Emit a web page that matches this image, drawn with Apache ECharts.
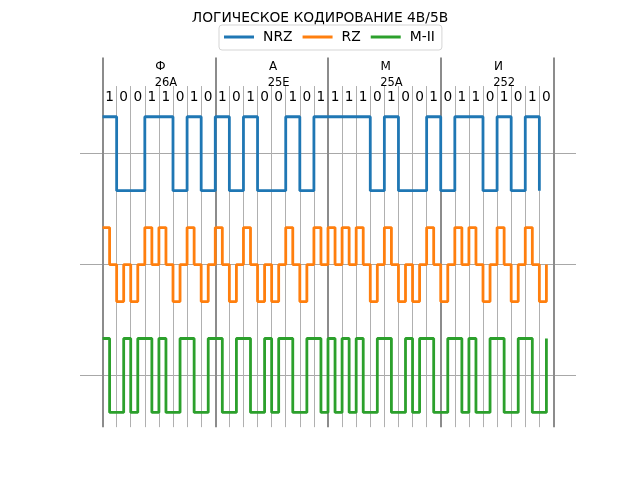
<!DOCTYPE html>
<html>
<head>
<meta charset="utf-8">
<script src="https://cdn.jsdelivr.net/npm/echarts@6/dist/echarts.min.js"></script>
<style>
html,body{margin:0;padding:0;background:#fff;}
#chart{width:640px;height:480px;}
</style>
</head>
<body>
<div id="chart"></div>
<script>
// ---- data ----
const bits = [1,0,0,1,1,0,1,0, 1,0,1,0,0,1,0,1, 1,1,1,0,1,0,0,1, 0,1,1,0,1,0,1,0];
const letters = ['Ф','А','М','И'];
const hexCodes = ['26A','25E','25A','252'];
// NRZ: one level per bit
const nrzLevels = [1,-1,-1,1,1,-1,1,-1, 1,-1,1,-1,-1,1,-1,1, 1,1,1,-1,1,-1,-1,1, -1,1,1,-1,1,-1,1,-1];
// RZ: two half-bit levels per bit
const rzLevels = [
  1,0,-1,0,-1,0,1,0,1,0,-1,0,1,0,-1,0,
  1,0,-1,0,1,0,-1,0,-1,0,1,0,-1,0,1,0,
  1,0,1,0,1,0,-1,0,1,0,-1,0,-1,0,1,0,
  -1,0,1,0,1,0,-1,0,1,0,-1,0,1,0,-1,0
];
// M-II (Manchester): two half-bit levels per bit
const m2Levels = [
  1,-1,-1,1,-1,1,1,-1,1,-1,-1,1,1,-1,-1,1,
  1,-1,-1,1,1,-1,-1,1,-1,1,1,-1,-1,1,1,-1,
  1,-1,1,-1,1,-1,-1,1,1,-1,-1,1,-1,1,1,-1,
  -1,1,1,-1,1,-1,-1,1,1,-1,-1,1,1,-1,-1,1
];
const seriesNames = ['NRZ','RZ','M-II'];

// ---- layout constants ----
const X_MIN = -1.6, X_MAX = 33.6, Y_MIN = -1.4, Y_MAX = 8.6;
const OFF_NRZ = 6, OFF_RZ = 3, OFF_M2 = 0;
const THIN_TOP = 7.83;
const Y_BITS = 7.53, Y_HEX = 7.9, Y_LET = 8.35;
const FONT = '"DejaVu Sans", sans-serif';

const nrzData = nrzLevels.map((v,i)=>[i, OFF_NRZ + v]);
const rzData = rzLevels.map((v,i)=>[i*0.5, OFF_RZ + v]);
const m2Data = m2Levels.map((v,i)=>[i*0.5, OFF_M2 + v]);

const thinLines = [], thickLines = [];
for (let k = 0; k <= bits.length; k++) {
  if (k % 8 === 0) thickLines.push({coords: [[k, Y_MIN], [k, Y_MAX]]});
  else thinLines.push({coords: [[k, Y_MIN], [k, THIN_TOP]]});
}
const hLines = [OFF_NRZ, OFF_RZ, OFF_M2].map(v => ({coords: [[X_MIN, v], [X_MAX, v]]}));

function textSeries(items, size) {
  return {
    type: 'custom', silent: true, z: 5,
    data: items.map(it => [it.x, it.y]),
    renderItem: function (params, api) {
      const p = api.coord([api.value(0), api.value(1)]);
      return {
        type: 'text', x: p[0], y: p[1],
        style: { text: items[params.dataIndex].t, fill: '#000', fontSize: size,
                 fontFamily: FONT, align: 'center', verticalAlign: 'middle' }
      };
    }
  };
}

const bitItems = bits.map((b,i)=>({x: i + 0.5, y: Y_BITS, t: String(b)}));
const letItems = letters.map((t,g)=>({x: g*8 + 4.1, y: Y_LET, t: t}));
const hexItems = hexCodes.map((t,g)=>({x: g*8 + 4.5, y: Y_HEX, t: t}));

const chart = echarts.init(document.getElementById('chart'), null, {renderer: 'canvas'});
chart.setOption({
  animation: false,
  backgroundColor: '#fff',
  title: {
    text: 'ЛОГИЧЕСКОЕ КОДИРОВАНИЕ 4B/5B',
    left: 'center', top: 11, padding: 0,
    textStyle: { fontFamily: FONT, fontSize: 13.8, fontWeight: 'normal', color: '#000' }
  },
  legend: {
    data: seriesNames,
    left: 219, top: 25,
    padding: [5, 7, 6, 5],
    itemWidth: 30, itemHeight: 3, itemGap: 10,
    icon: 'rect',
    borderColor: '#d5d5d5', borderWidth: 1, borderRadius: 3,
    backgroundColor: 'rgba(255,255,255,0.8)',
    textStyle: { fontFamily: FONT, fontSize: 13.9, color: '#000', padding: [0,0,0,4] }
  },
  grid: { left: 80, right: 64, top: 57.6, bottom: 52.8 },
  xAxis: { type: 'value', min: X_MIN, max: X_MAX, show: false },
  yAxis: { type: 'value', min: Y_MIN, max: Y_MAX, show: false },
  series: [
    { type: 'lines', coordinateSystem: 'cartesian2d', silent: true, z: 1,
      lineStyle: { color: '#a8a8a8', width: 1, opacity: 1 }, data: hLines },
    { type: 'lines', coordinateSystem: 'cartesian2d', silent: true, z: 1,
      lineStyle: { color: '#b0b0b0', width: 1, opacity: 1 }, data: thinLines },
    { type: 'lines', coordinateSystem: 'cartesian2d', silent: true, z: 1,
      lineStyle: { color: '#8c8c8c', width: 2, opacity: 1 }, data: thickLines },
    { name: 'NRZ', type: 'line', step: 'end', data: nrzData, showSymbol: false, z: 3,
      color: '#1f77b4', lineStyle: { width: 2.8, color: '#1f77b4' } },
    { name: 'RZ', type: 'line', step: 'end', data: rzData, showSymbol: false, z: 3,
      color: '#ff7f0e', lineStyle: { width: 2.8, color: '#ff7f0e' } },
    { name: 'M-II', type: 'line', step: 'end', data: m2Data, showSymbol: false, z: 3,
      color: '#2ca02c', lineStyle: { width: 2.8, color: '#2ca02c' } },
    textSeries(bitItems, 13.7),
    textSeries(letItems, 12),
    textSeries(hexItems, 11.5)
  ]
});
</script>
</body>
</html>
